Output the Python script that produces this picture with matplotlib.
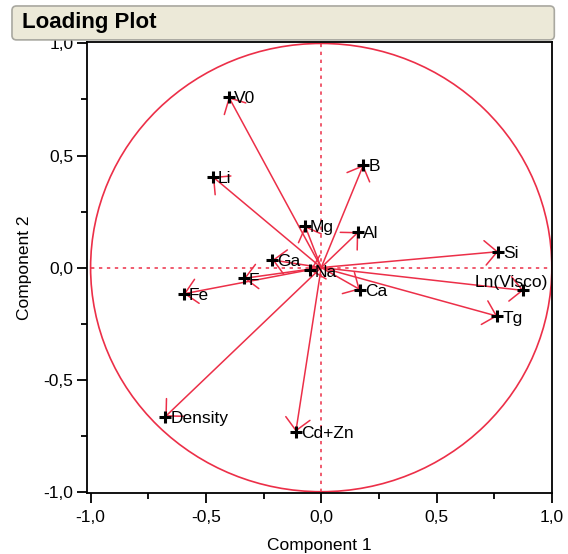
import numpy as np
import matplotlib
matplotlib.use("Agg")
import matplotlib.pyplot as plt
from matplotlib.patches import Circle, FancyBboxPatch
from matplotlib.ticker import FixedLocator, FuncFormatter

# Loadings of each variable on the first two principal components
variables = ["V0", "B", "Li", "Mg", "Al", "Si", "Ga", "Na", "F", "Ca",
             "Fe", "Ln(Visco)", "Tg", "Density", "Cd+Zn"]
component1 = [-0.401, 0.183, -0.470, -0.070, 0.161, 0.768, -0.212, -0.048,
              -0.335, 0.168, -0.596, 0.877, 0.764, -0.676, -0.110]
component2 = [0.761, 0.458, 0.405, 0.186, 0.159, 0.071, 0.034, -0.013,
              -0.048, -0.098, -0.117, -0.102, -0.217, -0.665, -0.732]

major_ticks = [-1.0, -0.5, 0.0, 0.5, 1.0]
minor_ticks = [-0.75, -0.25, 0.25, 0.75]
radius = 1.0

RED = "#EC2F48"
plt.rcParams["font.family"] = ["Liberation Sans", "DejaVu Sans"]

fig = plt.figure(figsize=(5.68, 5.54), dpi=100)
ax = fig.add_axes([0.1526, 0.1096, 0.8189, 0.8140])
ax.set_xlim(-1.017, 1.0)
ax.set_ylim(-1.007, 1.005)

# Title bar
bar = FancyBboxPatch((0.0211, 0.9280), 0.9548, 0.0612,
                     boxstyle="round,pad=0,rounding_size=0.008",
                     transform=fig.transFigure, facecolor="#ECE9D8",
                     edgecolor="#A9A8A0", linewidth=1.2, zorder=0)
fig.patches.append(bar)
fig.text(0.039, 0.9585, "Loading Plot", fontsize=16, fontweight="bold",
         ha="left", va="center")

# Unit circle and dotted reference axes
ax.add_patch(Circle((0, 0), radius, fill=False, edgecolor=RED, lw=1.2, zorder=1))
ax.hlines(0, -radius, radius, colors=RED, lw=1.1, linestyles=(0, (2.2, 3.0)), zorder=1)
ax.vlines(0, -radius, radius, colors=RED, lw=1.1, linestyles=(0, (2.2, 3.0)), zorder=1)

# Loading vectors
for x, y in zip(component1, component2):
    ax.annotate("", xy=(x, y), xytext=(0, 0),
                arrowprops=dict(arrowstyle="->,head_length=0.44,head_width=0.44",
                                color=RED, lw=1.1, shrinkA=0, shrinkB=0,
                                mutation_scale=20),
                zorder=2)

ax.plot(component1, component2, linestyle="none", marker="+", ms=8.5,
        mew=2.2, color="black", zorder=3)

label_offsets = {"Ln(Visco)": ((18, 2.4), "right")}
for name, x, y in zip(variables, component1, component2):
    offset, ha = label_offsets.get(name, ((3.5, -4.6), "left"))
    ax.annotate(name, (x, y), xytext=offset, textcoords="offset points",
                ha=ha, va="baseline", fontsize=12.5, zorder=4)

# Axes styling
for side in ax.spines.values():
    side.set_linewidth(1.3)
ax.xaxis.set_major_locator(FixedLocator(major_ticks))
ax.yaxis.set_major_locator(FixedLocator(major_ticks))
ax.xaxis.set_minor_locator(FixedLocator(minor_ticks))
ax.yaxis.set_minor_locator(FixedLocator(minor_ticks))
fmt = FuncFormatter(lambda v, pos: f"{v:.1f}".replace(".", ","))
ax.xaxis.set_major_formatter(fmt)
ax.yaxis.set_major_formatter(fmt)
ax.tick_params(which="major", length=7, width=1.3, labelsize=12.5)
ax.tick_params(which="minor", length=4, width=1.3)
ax.tick_params(axis="x", which="major", pad=5)
ax.tick_params(axis="y", which="major", pad=2.5)

ax.set_xlabel("Component 1", fontsize=12.5, labelpad=9.5)
ax.set_ylabel("Component 2", fontsize=12.5, labelpad=8)

fig.savefig("out.png", dpi=100)
